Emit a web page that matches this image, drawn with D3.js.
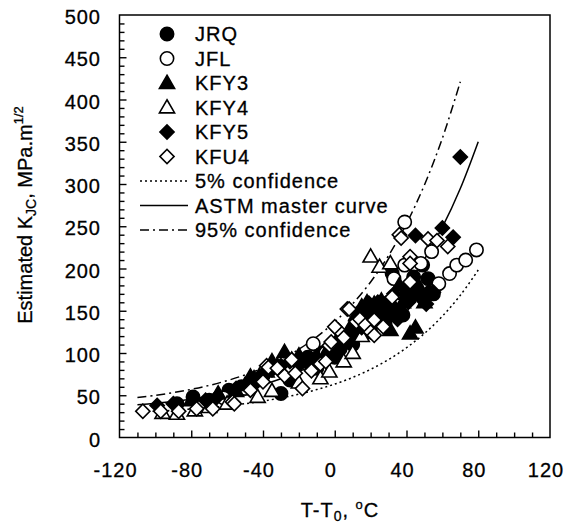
<!DOCTYPE html>
<html>
<head>
<meta charset="utf-8">
<script src="https://cdn.jsdelivr.net/npm/d3@7"></script>
<style>
  html, body { margin: 0; padding: 0; background: #fff; }
  svg text { font-family: "Liberation Sans", Arial, Helvetica, sans-serif; fill: #000; stroke: #000; stroke-width: 0.3px; }
</style>
</head>
<body>
<svg id="chart" width="565" height="524"></svg>
<script>
// Normalised temperature T - T0 (°C) and estimated K_Jc (MPa.m^1/2) for each material
const jrq = [[-88,40],[-79,48],[-70,44],[-59,56],[-52,60],[-45,65],[-40,73],[-30,52],[-25,68],[-20,88],[-15,95],[-10,82],[-8,100],[-5,98],[0,95],[3,105],[5,118],[8,120],[10,110],[12,130],[15,140],[18,145],[20,125],[25,150],[28,135],[30,160],[32,194],[35,150],[38,145],[40,170],[42,166],[44,190],[45,175],[49,204],[52,188],[55,170]];
const jfl = [[-62,47],[-50,58],[-12,111],[-5,100],[5,120],[33,188],[39,204],[39,255],[48,206],[54,220],[58,182],[64,194],[68,204],[73,210],[79,222]];
const kfy3 = [[-80,44],[-65,52],[-55,55],[-50,62],[-47,72],[-45,70],[-42,73],[-38,78],[-35,90],[-32,85],[-28,101],[-24,92],[-20,97],[-15,90],[-10,95],[-5,100],[0,105],[2,118],[5,115],[8,125],[10,135],[12,145],[15,155],[18,160],[20,150],[22,158],[25,145],[26,162],[28,150],[31,127],[33,155],[36,180],[38,160],[40,170],[42,123],[45,130],[45,185],[47,178],[50,160],[53,173]];
const kfy4 = [[-96,29],[-88,28],[-78,32],[-70,36],[-60,40],[-43,48],[-35,55],[-20,65],[-8,70],[-3,78],[5,90],[10,100],[15,120],[20,214],[25,202],[31,206]];
const kfy5 = [[-99,38],[-90,40],[-72,44],[-66,47],[-55,58],[-45,68],[-35,80],[-30,85],[-25,90],[-20,92],[-15,88],[-5,95],[-2,105],[0,100],[5,110],[8,120],[10,125],[12,140],[15,130],[19,159],[22,150],[24,160],[27,154],[30,145],[33,170],[35,140],[40,178],[41,160],[45,239],[48,165],[51,158],[52,172],[55,172],[60,248],[66,237],[70,332]];
const kfu4 = [[-107,31],[-97,31],[-87,31],[-77,34],[-68,34],[-57,42],[-56,40],[-47,56],[-40,66],[-38,85],[-37,83],[-32,82],[-28,73],[-24,92],[-22,76],[-18,58],[-13,79],[-8,87],[-5,90],[-3,109],[-2,113],[2,127],[0,131],[5,118],[7,152],[8,152],[12,137],[14,140],[17,133],[20,125],[22,139],[22,121],[27,131],[32,166],[36,240],[37,236],[42,214],[42,206],[42,184],[52,235],[57,233],[63,226]];

// Scatter bounds (5 %, 95 %) and median master curve, sampled every 10 °C
const curveT = [-110,-100,-90,-80,-70,-60,-50,-40,-30,-20,-10,0,10,20,30,40,50,60,70,80];
const conf5 = [30.1,31.1,32.2,33.7,35.4,37.5,40.0,43.1,46.8,51.3,56.7,63.2,71.1,80.7,92.2,106.2,123.1,143.6,168.3,198.2];
const master = [38.7,40.5,42.7,45.3,48.5,52.4,57.1,62.7,69.6,77.9,87.9,100.0,114.6,132.4,153.8,179.7,211.0,248.9,294.7,350.1];
const conf95 = [47.2,49.9,53.1,57.0,61.6,67.3,74.1,82.4,92.4,104.5,119.1,136.8,158.2,184.0,215.3,253.1,298.9,354.2,421.0];

const xTicks = [-120,-80,-40,0,40,80,120];
const yTicks = [0,50,100,150,200,250,300,350,400,450,500];

const series = [
  {name: "JRQ",  data: jrq,  shape: "circle",   filled: true},
  {name: "JFL",  data: jfl,  shape: "circle",   filled: false},
  {name: "KFY3", data: kfy3, shape: "triangle", filled: true},
  {name: "KFY4", data: kfy4, shape: "triangle", filled: false},
  {name: "KFY5", data: kfy5, shape: "diamond",  filled: true},
  {name: "KFU4", data: kfu4, shape: "diamond",  filled: false}
];
const lines = [
  {name: "5% confidence",      values: conf5,  dash: "2,3"},
  {name: "ASTM master curve",  values: master, dash: null},
  {name: "95% confidence",     values: conf95, dash: "9,4,2,4"}
];

const svg = d3.select("#chart");
const x = d3.scaleLinear().domain([-120, 120]).range([119.5, 550]);
const y = d3.scaleLinear().domain([0, 500]).range([437.5, 15]);

const symbolOf = {
  circle: d3.symbol().type(d3.symbolCircle).size(140),
  triangle: d3.symbol().type(d3.symbolTriangle).size(100),
  diamond: d3.symbol().type(d3.symbolSquare).size(100)
};
function drawMarker(g, s) {
  const p = g.append("path")
    .attr("d", symbolOf[s.shape]())
    .attr("fill", s.filled ? "#000" : "#fff")
    .attr("stroke", "#000")
    .attr("stroke-width", 1.6);
  if (s.shape === "diamond") p.attr("transform", "rotate(45)");
  if (s.shape === "triangle") p.attr("transform", "translate(0,1)");
  return p;
}

// Frame
svg.append("rect")
  .attr("x", x(-120)).attr("y", y(500))
  .attr("width", x(120) - x(-120)).attr("height", y(0) - y(500))
  .attr("fill", "none").attr("stroke", "#000").attr("stroke-width", 1.5);

// Inward ticks: minor every 10, major at labelled values
const xAxis = d3.axisBottom(x).tickValues(d3.range(-110, 120, 10))
  .tickSizeInner(-5).tickSizeOuter(0).tickFormat("");
svg.append("g").attr("transform", `translate(0,${y(0)})`).call(xAxis)
  .call(g => g.select(".domain").remove())
  .call(g => g.selectAll(".tick line").attr("stroke-width", 1.4)
    .attr("y2", d => (d % 40 === 0) ? -7 : -5));

const yAxis = d3.axisLeft(y).tickValues(d3.range(10, 500, 10))
  .tickSizeInner(-5).tickSizeOuter(0).tickFormat("");
svg.append("g").attr("transform", `translate(${x(-120)},0)`).call(yAxis)
  .call(g => g.select(".domain").remove())
  .call(g => g.selectAll(".tick line").attr("stroke-width", 1.4)
    .attr("x2", d => (d % 50 === 0) ? 7 : 5));

// Tick labels
svg.append("g").selectAll("text").data(xTicks).join("text")
  .attr("x", d => x(d) - 4).attr("y", 477)
  .attr("text-anchor", "middle").attr("font-size", 20).attr("letter-spacing", 1)
  .text(d => d);
svg.append("g").selectAll("text").data(yTicks).join("text")
  .attr("x", 101).attr("y", d => y(d) + 9)
  .attr("text-anchor", "end").attr("font-size", 20).attr("letter-spacing", 1)
  .text(d => d);

// Axis titles
const xt = svg.append("text").attr("x", 340).attr("y", 517)
  .attr("text-anchor", "middle").attr("font-size", 20).attr("letter-spacing", 1);
xt.append("tspan").text("T-T");
xt.append("tspan").attr("font-size", 14).attr("dy", 4).text("0");
xt.append("tspan").attr("dy", -4).text(", ");
xt.append("tspan").attr("font-size", 13).attr("dy", -8).text("o");
xt.append("tspan").attr("dy", 8).text("C");

const yt = svg.append("text").attr("transform", "translate(32,215) rotate(-90)")
  .attr("text-anchor", "middle").attr("font-size", 20);
yt.append("tspan").text("Estimated K");
yt.append("tspan").attr("font-size", 14).attr("dy", 4).text("JC");
yt.append("tspan").attr("dy", -4).text(", MPa.m");
yt.append("tspan").attr("font-size", 13).attr("dy", -9).text("1/2");

// Curves
const lineGen = d3.line().x(d => x(d[0])).y(d => y(d[1])).curve(d3.curveCatmullRom);
const plot = svg.append("g");
lines.forEach(l => {
  plot.append("path")
    .datum(l.values.map((v, i) => [curveT[i], v]))
    .attr("d", lineGen)
    .attr("fill", "none").attr("stroke", "#000").attr("stroke-width", 1.5)
    .attr("stroke-dasharray", l.dash);
});

// Data markers
series.forEach(s => {
  const g = plot.append("g");
  s.data.forEach(d => {
    const m = g.append("g").attr("transform", `translate(${x(d[0])},${y(d[1])})`);
    drawMarker(m, s);
  });
});

// Legend
const legendX = 167, legendY0 = 34, legendStep = 24.5;
const legend = svg.append("g");
series.forEach((s, i) => {
  const yy = legendY0 + i * legendStep;
  const m = legend.append("g").attr("transform", `translate(${legendX},${yy})`);
  drawMarker(m, s);
  legend.append("text").attr("x", 195).attr("y", yy + 7)
    .attr("font-size", 20).attr("letter-spacing", 1).text(s.name);
});
lines.forEach((l, i) => {
  const yy = legendY0 + (series.length + i) * legendStep;
  legend.append("line").attr("x1", 140).attr("x2", 188).attr("y1", yy).attr("y2", yy)
    .attr("stroke", "#000").attr("stroke-width", 1.5).attr("stroke-dasharray", l.dash);
  legend.append("text").attr("x", 195).attr("y", yy + 7)
    .attr("font-size", 20).attr("letter-spacing", 1).text(l.name);
});
</script>
</body>
</html>
